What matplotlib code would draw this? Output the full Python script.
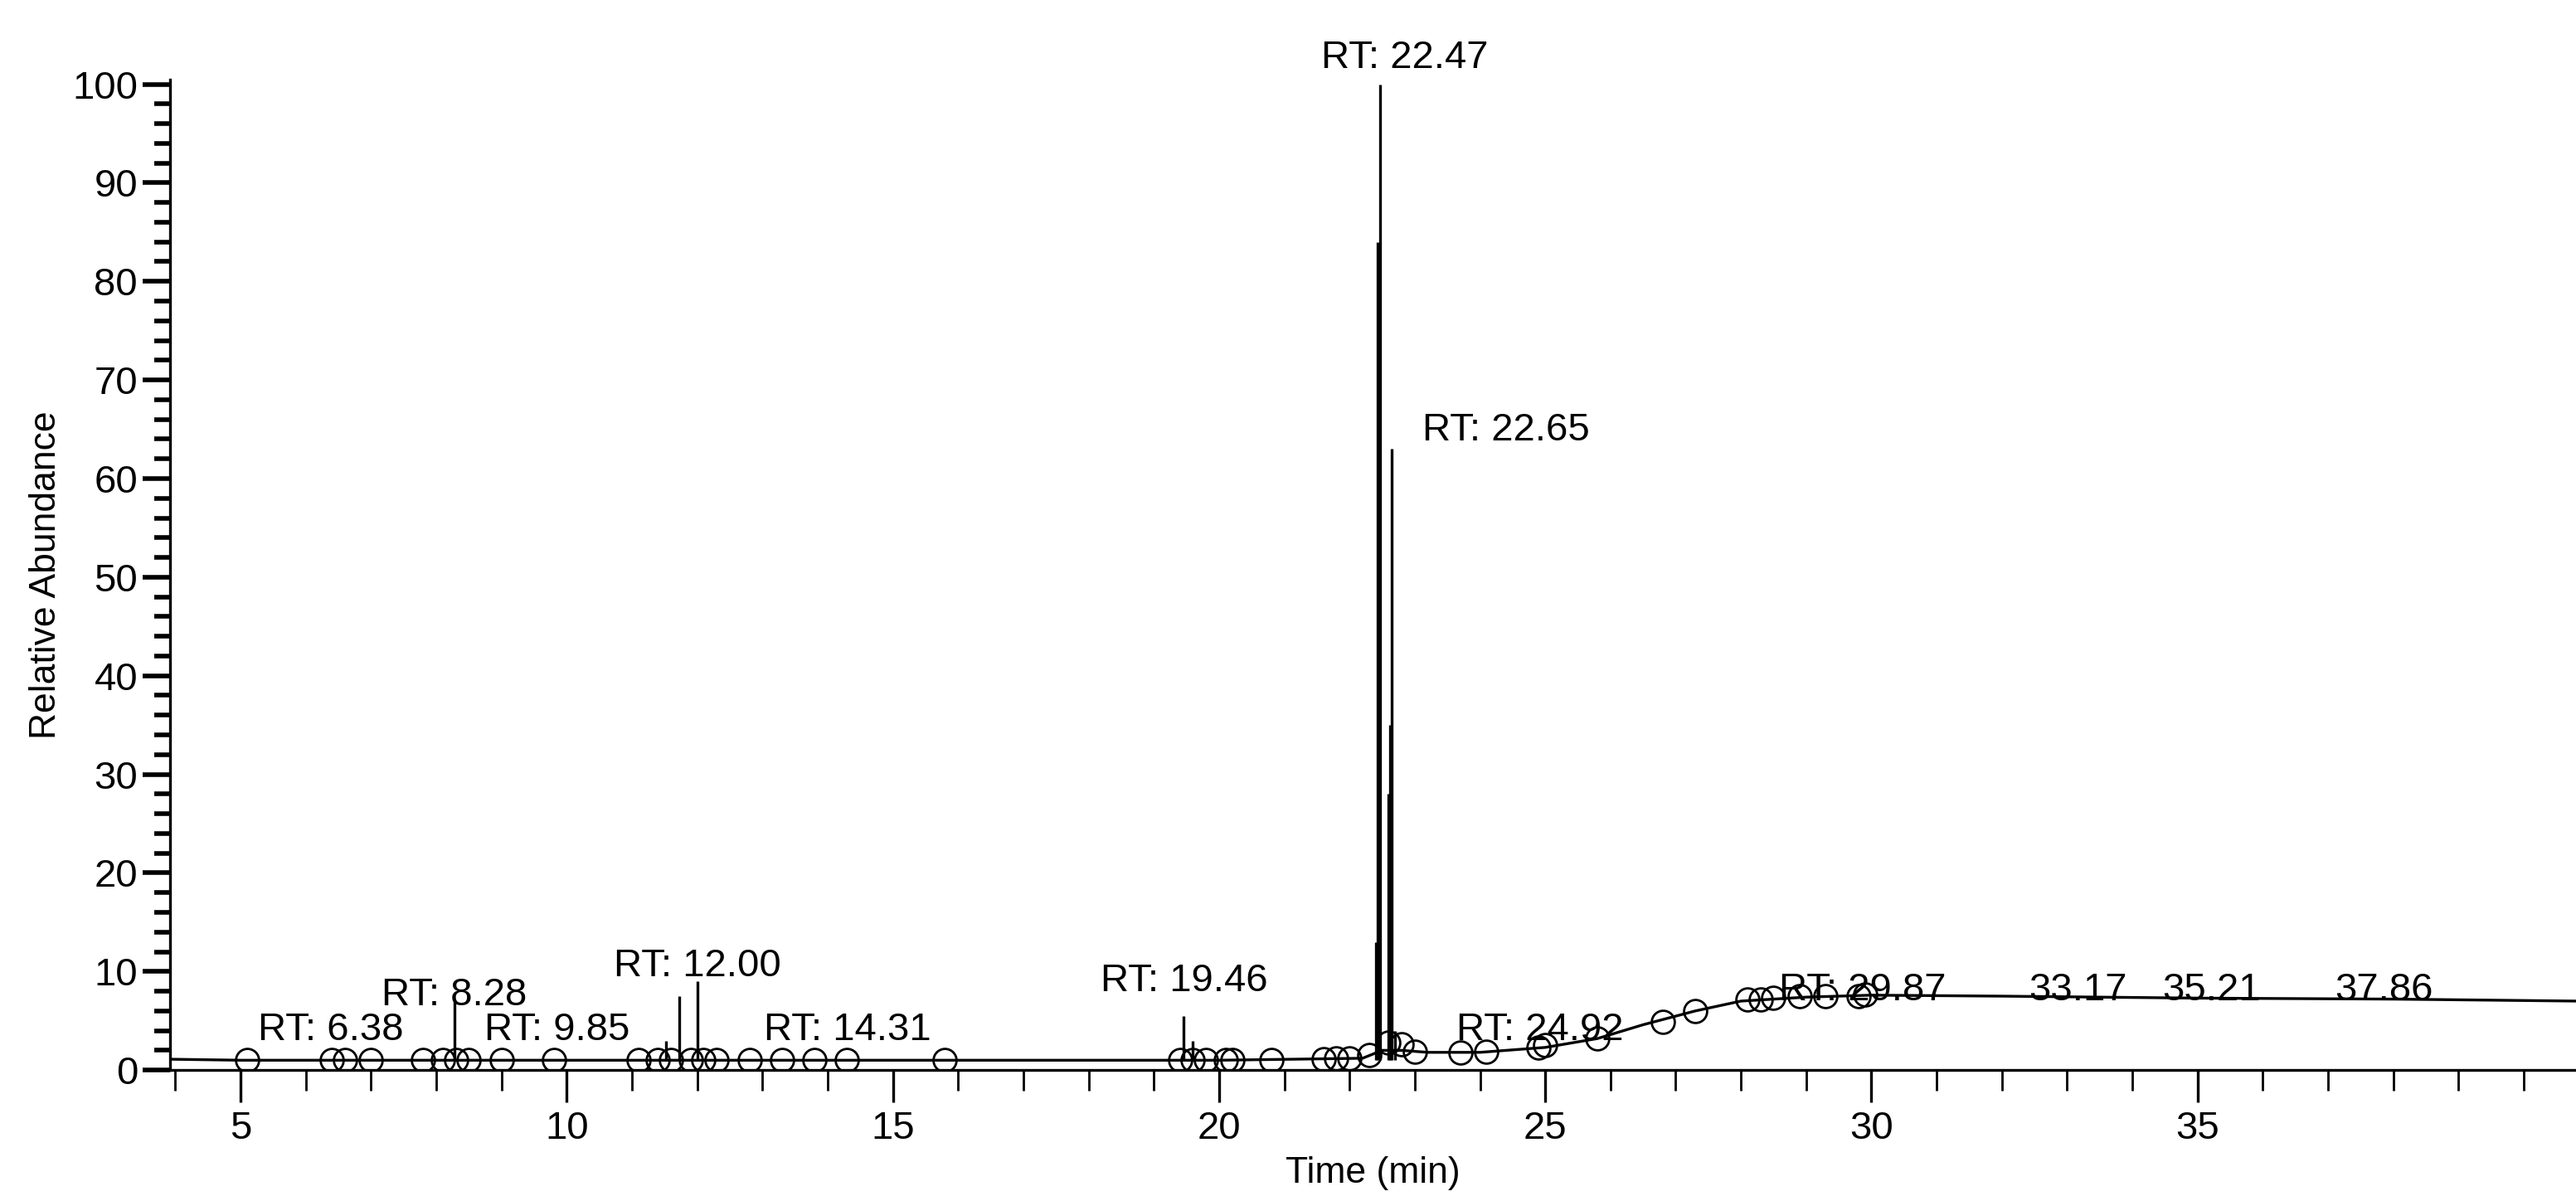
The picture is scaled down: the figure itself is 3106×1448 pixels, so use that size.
import numpy as np
import matplotlib
matplotlib.use('Agg')
import matplotlib.pyplot as plt
from matplotlib.ticker import MultipleLocator

plt.rcParams['font.family'] = ['Liberation Sans', 'DejaVu Sans']

# baseline trace (time, relative abundance)
base_t = [3.95, 5.0, 8.0, 12.0, 16.0, 20.0, 22.2, 22.5, 22.8, 23.2, 24.0, 25.0,
          25.8, 26.5, 27.3, 28.0, 29.0, 30.0, 32.0, 35.0, 38.0, 40.8]
base_y = [1.1, 1.0, 1.0, 1.0, 1.0, 1.0, 1.2, 2.0, 2.0, 1.8, 1.8, 2.3,
          3.2, 4.6, 6.0, 7.0, 7.4, 7.6, 7.5, 7.3, 7.2, 7.0]

# peaks (time, height)
peak_t = [8.28, 11.52, 11.72, 12.00, 19.46, 19.60, 22.40, 22.43, 22.47, 22.60, 22.62, 22.65, 22.70]
peak_y = [7.0, 3.0, 7.5, 9.0, 5.5, 3.0, 13.0, 84.0, 100.0, 28.0, 35.0, 63.0, 4.0]

# circle markers (time, abundance)
circ_t = [5.1, 6.4, 6.6, 7.0, 7.8, 8.1, 8.3, 8.5, 9.0, 9.8, 11.1, 11.4, 11.6, 11.9,
          12.1, 12.3, 12.8, 13.3, 13.8, 14.3, 15.8, 19.4, 19.6, 19.8, 20.1, 20.2, 20.8,
          21.6, 21.8, 22.0, 22.3, 22.6, 22.8, 23.0, 23.7, 24.1, 24.9, 25.0, 25.8, 26.8,
          27.3, 28.1, 28.3, 28.5, 28.9, 29.3, 29.8, 29.9]
circ_y = [1.0, 1.0, 1.0, 1.0, 1.0, 1.0, 1.0, 1.0, 1.0, 1.0, 1.0, 1.0, 1.0, 1.0,
          1.0, 1.0, 1.0, 1.0, 1.0, 1.0, 1.0, 1.0, 1.0, 1.0, 1.0, 1.0, 1.0,
          1.1, 1.2, 1.2, 1.5, 2.8, 2.6, 1.9, 1.8, 1.9, 2.3, 2.5, 3.2, 4.9,
          6.0, 7.2, 7.2, 7.3, 7.5, 7.5, 7.5, 7.7]

# annotations
lab_text = ['RT: 6.38', 'RT: 8.28', 'RT: 9.85', 'RT: 12.00', 'RT: 14.31', 'RT: 19.46',
            'RT: 22.47', 'RT: 22.65', 'RT: 24.92', 'RT: 29.87', '33.17', '35.21', '37.86']
lab_x = [6.38, 8.28, 9.85, 12.00, 14.31, 19.46, 22.85, 24.4, 24.92, 29.87, 33.17, 35.21, 37.86]
lab_y = [2.2, 5.7, 2.2, 8.7, 2.2, 7.2, 100.8, 63.0, 2.2, 6.2, 6.2, 6.2, 6.2]

fig = plt.figure(figsize=(15.53, 7.24), dpi=200)
ax = fig.add_axes([0.066, 0.109, 0.934, 0.825])

ax.plot(base_t, base_y, color='black', linewidth=1.2)
ax.vlines(peak_t, 1.0, peak_y, color='black', linewidth=1.2)
ax.plot(circ_t, circ_y, 'o', markerfacecolor='none', markeredgecolor='black',
        markersize=10, markeredgewidth=1.0)

for s, x, y in zip(lab_text, lab_x, lab_y):
    ax.text(x, y, s, ha='center', va='bottom', fontsize=17)

ax.set_xlim(3.92, 40.8)
ax.set_ylim(0, 100.5)
ax.xaxis.set_major_locator(MultipleLocator(5))
ax.xaxis.set_minor_locator(MultipleLocator(1))
ax.yaxis.set_major_locator(MultipleLocator(10))
ax.yaxis.set_minor_locator(MultipleLocator(2))
ax.set_xticks([5, 10, 15, 20, 25, 30, 35])
ax.tick_params(axis='x', which='major', length=14, width=1.2, labelsize=17, direction='out')
ax.tick_params(axis='x', which='minor', length=9, width=1.0)
ax.tick_params(axis='y', which='major', length=12, width=2, labelsize=17, pad=2)
ax.tick_params(axis='y', which='minor', length=7, width=2)
for sp in ['top', 'right']:
    ax.spines[sp].set_visible(False)
ax.spines['left'].set_linewidth(1.2)
ax.spines['bottom'].set_linewidth(1.2)

ax.set_xlabel('Time (min)', fontsize=16)
ax.set_ylabel('Relative Abundance', fontsize=16)

fig.savefig('out.png', dpi=200)
